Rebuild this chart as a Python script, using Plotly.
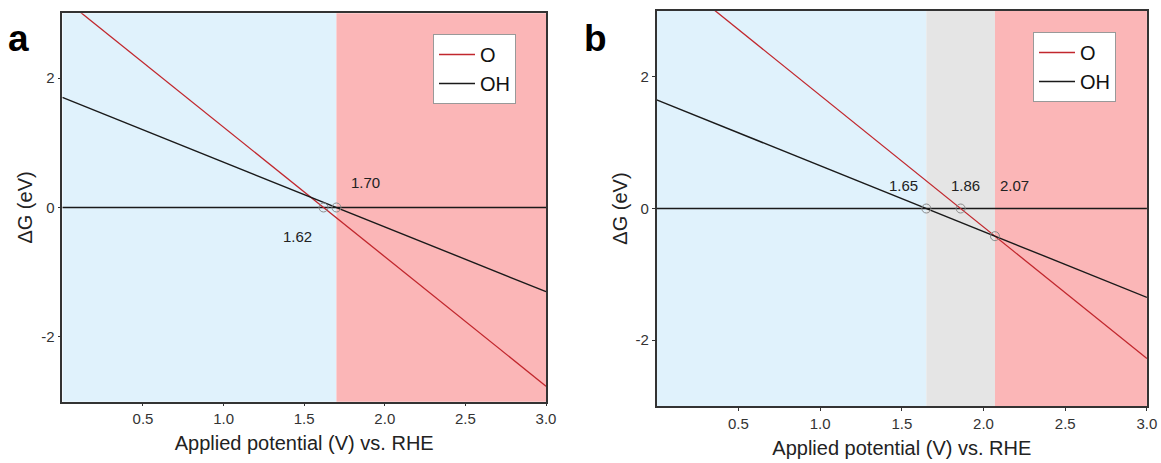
import plotly.graph_objects as go

# ---------------- data ----------------
U = [0.0, 3.0]                       # applied potential (V vs RHE)

# panel a
O_a = [3.24, -2.76]
OH_a = [1.70, -1.30]
pts_a_x = [1.62, 1.70]
pts_a_y = [0.0, 0.0]
lab_a_text = ["1.70", "1.62"]
lab_a_x = [1.88, 1.46]
lab_a_y = [0.38, -0.45]
reg_a_start = [0.0, 1.70]
reg_a_end = [1.70, 3.0]
reg_a_color = ["#E0F2FC", "#FBB6B7"]

# panel b
O_b = [3.72, -2.28]
OH_b = [1.65, -1.35]
pts_b_x = [1.65, 1.86, 2.07]
pts_b_y = [0.0, 0.0, -0.42]
lab_b_text = ["1.65", "1.86", "2.07"]
lab_b_x = [1.51, 1.89, 2.19]
lab_b_y = [0.35, 0.35, 0.35]
reg_b_start = [0.0, 1.65, 2.07]
reg_b_end = [1.65, 2.07, 3.0]
reg_b_color = ["#E0F2FC", "#E5E5E5", "#FBB6B7"]

x_ticks = [0.5, 1.0, 1.5, 2.0, 2.5, 3.0]
x_ticklabels = ["0.5", "1.0", "1.5", "2.0", "2.5", "3.0"]
y_ticks = [-2, 0, 2]
y_ticklabels = ["-2", "0", "2"]
x_range = [0.0, 3.0]
y_range = [-3.0, 3.0]

RED = "#C1272D"
BLACK = "#1A1A1A"
FONT = "Liberation Sans, Arial, sans-serif"

fig = go.Figure()

def add_panel(xa, ya, legend, O, OH, px, py, ltxt, lx, ly, rs, re, rc):
    xr = "x" if xa == 1 else f"x{xa}"
    yr = "y" if ya == 1 else f"y{ya}"
    for s, e, c in zip(rs, re, rc):
        fig.add_shape(type="rect", xref=xr, yref=f"{yr} domain", x0=s, x1=e, y0=0, y1=1,
                      fillcolor=c, line_width=0, layer="below")
    fig.add_trace(go.Scatter(x=x_range, y=[0, 0], mode="lines", xaxis=xr, yaxis=yr,
                             line=dict(color=BLACK, width=1.5), showlegend=False, hoverinfo="skip"))
    fig.add_trace(go.Scatter(x=U, y=O, mode="lines", name="O", xaxis=xr, yaxis=yr,
                             line=dict(color=RED, width=1.3), legend=legend))
    fig.add_trace(go.Scatter(x=U, y=OH, mode="lines", name="OH", xaxis=xr, yaxis=yr,
                             line=dict(color=BLACK, width=1.4), legend=legend))
    fig.add_trace(go.Scatter(x=px, y=py, mode="markers", xaxis=xr, yaxis=yr, showlegend=False,
                             marker=dict(symbol="circle-open", size=9, color="#8A8A8A",
                                         line=dict(width=1, color="#8A8A8A"))))
    for t, x, y in zip(ltxt, lx, ly):
        fig.add_annotation(x=x, y=y, xref=xr, yref=yr, text=t, showarrow=False,
                           font=dict(size=15, color="#222222", family=FONT))

add_panel(1, 1, "legend", O_a, OH_a, pts_a_x, pts_a_y, lab_a_text, lab_a_x, lab_a_y,
          reg_a_start, reg_a_end, reg_a_color)
add_panel(2, 2, "legend2", O_b, OH_b, pts_b_x, pts_b_y, lab_b_text, lab_b_x, lab_b_y,
          reg_b_start, reg_b_end, reg_b_color)

axis_common = dict(showline=True, mirror=True, linecolor="#333333", linewidth=1.6,
                   ticks="outside", ticklen=3, tickcolor="#333333", showgrid=False,
                   zeroline=False, automargin=False,
                   tickfont=dict(size=15, color="#333333", family=FONT))

xtitle = dict(text="Applied potential (V) vs. RHE", font=dict(size=20, color="#222222", family=FONT),
              standoff=10)
ytitle = dict(text="ΔG (eV)", font=dict(size=20, color="#222222", family=FONT), standoff=3)

legend_common = dict(xanchor="left", yanchor="top", bgcolor="white",
                     bordercolor="#999999", borderwidth=1,
                     font=dict(size=20, color="#111111", family=FONT),
                     tracegroupgap=0, itemwidth=36)

fig.update_layout(
    width=1161, height=463, autosize=False,
    margin=dict(l=0, r=0, t=0, b=0, autoexpand=False),
    paper_bgcolor="white", plot_bgcolor="white",
    font=dict(family=FONT),
    xaxis=dict(domain=[0.0537, 0.4703], range=x_range, tickvals=x_ticks, ticktext=x_ticklabels,
               anchor="y", title=xtitle, **axis_common),
    yaxis=dict(domain=[0.1324, 0.9713], range=y_range, tickvals=y_ticks, ticktext=y_ticklabels,
               anchor="x", title=ytitle, **axis_common),
    xaxis2=dict(domain=[0.5656, 0.9879], range=x_range, tickvals=x_ticks, ticktext=x_ticklabels,
                anchor="y2", title=xtitle, **axis_common),
    yaxis2=dict(domain=[0.1231, 0.9762], range=y_range, tickvals=y_ticks, ticktext=y_ticklabels,
                anchor="x2", title=ytitle, **axis_common),
    legend=dict(x=433 / 1161, y=1 - 34 / 463, **legend_common),
    legend2=dict(x=1033 / 1161, y=1 - 32 / 463, **legend_common),
    showlegend=True,
)

fig.add_annotation(x=18 / 1161, y=1 - 39 / 463, xref="paper", yref="paper", text="<b>a</b>",
                   xanchor="center", yanchor="middle",
                   showarrow=False, font=dict(size=37, color="black", family=FONT))
fig.add_annotation(x=595 / 1161, y=1 - 39 / 463, xref="paper", yref="paper", text="<b>b</b>",
                   xanchor="center", yanchor="middle",
                   showarrow=False, font=dict(size=37, color="black", family=FONT))

fig.write_html(
    "out.html",
    config={"displayModeBar": False, "responsive": False},
    post_script=("document.body.style.margin='0px';"
                 "document.body.style.overflow='hidden';"
                 "document.documentElement.style.overflow='hidden';"),
)
